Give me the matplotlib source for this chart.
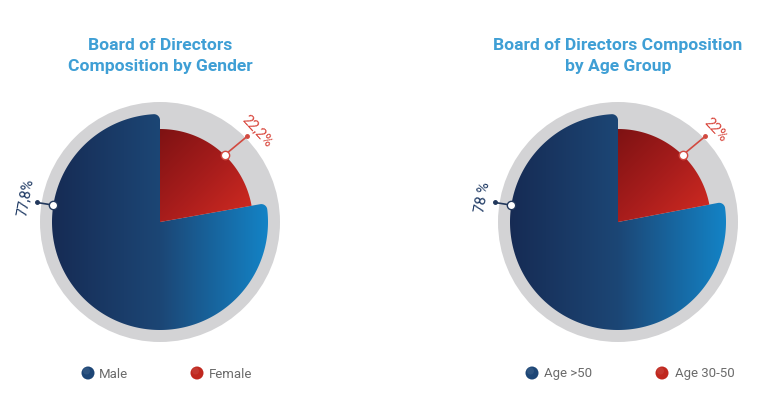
import numpy as np
import matplotlib
matplotlib.use("Agg")
import matplotlib.pyplot as plt
from matplotlib.path import Path
from matplotlib.patches import PathPatch, Circle
from matplotlib.colors import LinearSegmentedColormap

# chart data
gender_title = "Board of Directors\nComposition by Gender"
gender_labels = ["Male", "Female"]
gender_values = [77.8, 22.2]
gender_texts = ["77,8%", "22,2%"]

age_title = "Board of Directors Composition\nby Age Group"
age_labels = ["Age >50", "Age 30-50"]
age_values = [78, 22]
age_texts = ["78 %", "22%"]

W, H = 757, 400
FONT = ["Roboto", "DejaVu Sans"]

blue_cmap = LinearSegmentedColormap.from_list(
    "blue", [(0, "#162b54"), (0.5, "#1c4675"), (1, "#1383c6")])
red_cmap = LinearSegmentedColormap.from_list(
    "red", [(0, "#7e1213"), (0.5, "#a81d1c"), (1, "#d42c22")])


def polar(cx, cy, r, t):
    t = np.radians(t)
    return cx + r * np.cos(t), cy + r * np.sin(t)


def wedge_path(cx, cy, r, a, b, rc=0.0):
    pts = [(cx, cy)]
    if rc > 0:
        d = np.degrees(np.arcsin(rc / (r - rc)))
        c1 = polar(cx, cy, r - rc, a + d)
        for t in np.linspace(a - 90, a + d, 30):
            pts.append(polar(c1[0], c1[1], rc, t))
        for t in np.linspace(a + d, b - d, 300):
            pts.append(polar(cx, cy, r, t))
        c2 = polar(cx, cy, r - rc, b - d)
        for t in np.linspace(b - d, b + 90, 30):
            pts.append(polar(c2[0], c2[1], rc, t))
    else:
        for t in np.linspace(a, b, 200):
            pts.append(polar(cx, cy, r, t))
    pts.append((cx, cy))
    codes = [Path.MOVETO] + [Path.LINETO] * (len(pts) - 2) + [Path.CLOSEPOLY]
    return Path(pts, codes)


def gradient_fill(ax, path, cmap, extent, diagonal=False):
    patch = PathPatch(path, fc="none", ec="none")
    ax.add_patch(patch)
    n = 256
    xs = np.linspace(0, 1, n)
    if diagonal:
        gx, gy = np.meshgrid(xs, xs)
        grad = (gx + gy) / 2
    else:
        grad = np.tile(xs, (n, 1))
    im = ax.imshow(grad, cmap=cmap, extent=extent, origin="upper",
                   interpolation="bilinear", zorder=3)
    im.set_clip_path(patch)


def draw_pie(ax, cx, cy, values, texts, title, labels, leg_x):
    ax.add_patch(Circle((cx, cy), 120, fc="#d3d3d5", ec="none", zorder=1))
    span = 360 * values[1] / sum(values)
    red_start = 90 - span

    r_blue, r_red = 108, 93
    gradient_fill(ax, wedge_path(cx, cy, r_blue, 90, 360 + red_start, 6),
                  blue_cmap, [cx - r_blue, cx + r_blue, cy - r_blue, cy + r_blue])
    gradient_fill(ax, wedge_path(cx, cy, r_red, red_start, 90),
                  red_cmap, [cx, cx + r_red, cy, cy + r_red], diagonal=True)

    # leader lines and value labels
    specs = [
        (r_blue, 171, 125, 171, 137, 169.5, "#22385c", "#1f3a64"),
        (r_red, 46, 122, 44.5, 134, 43, "#d24a40", "#d9473d"),
    ]
    for txt, (r0, t0, r1, t1, r2, t2, lc, tc) in zip(texts, specs):
        x0, y0 = polar(cx, cy, r0, t0)
        x1, y1 = polar(cx, cy, r1, t1)
        ax.plot([x0, x1], [y0, y1], color=lc, lw=1.2, zorder=5)
        ax.plot(x1, y1, "o", ms=2.5, color=lc, zorder=5)
        ax.plot(x0, y0, "o", ms=6, mfc="white", mec=lc, mew=1, zorder=6)
        xt, yt = polar(cx, cy, r2, t2)
        ax.text(xt, yt, txt, rotation=t2 - 90, rotation_mode="anchor",
                ha="center", va="center", color=tc, fontsize=10.5,
                family=FONT, zorder=6)

    ax.text(cx, H - 56, title, ha="center", va="center", color="#3f9fd5",
            fontsize=12.6, fontweight="bold", family=FONT, linespacing=1.5)

    # legend
    leg_cols = ["#1d4676", "#c0281f"]
    for (lx, tx), lab, col in zip(leg_x, labels, leg_cols):
        ax.add_patch(Circle((lx, H - 373), 6.5, fc=col, ec="none", zorder=4))
        ax.add_patch(Circle((lx - 1.5, H - 371), 3.5, fc="white", ec="none",
                            alpha=0.08, zorder=5))
        ax.text(tx, H - 374, lab, ha="left", va="center", color="#6b6b6b",
                fontsize=9.5, family=FONT)


fig = plt.figure(figsize=(W / 100, H / 100), dpi=100)
ax = fig.add_axes([0, 0, 1, 1])
ax.set_xlim(0, W)
ax.set_ylim(0, H)
ax.set_aspect("equal")
ax.axis("off")

draw_pie(ax, 160, H - 222, gender_values, gender_texts, gender_title,
         gender_labels, [(88, 99), (197, 209)])
draw_pie(ax, 618, H - 222, age_values, age_texts, age_title,
         age_labels, [(532, 544), (662, 675)])

fig.savefig("out.png", dpi=100, facecolor="white")
